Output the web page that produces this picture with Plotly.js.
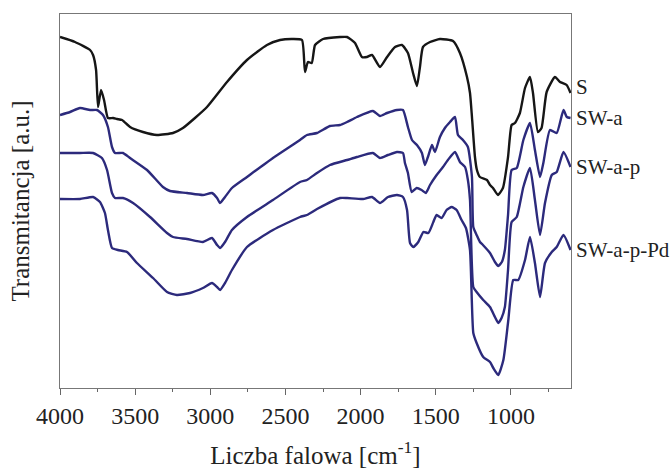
<!DOCTYPE html>
<html>
<head>
<meta charset="utf-8">
<script src="https://cdn.plot.ly/plotly-3.0.1.min.js"></script>
<style>html,body{margin:0;padding:0;background:#fff;}#chart{width:671px;height:470px;}</style>
</head>
<body>
<div id="chart"></div>
<script>
// Series names (labels at right)
const seriesNames = ["S", "SW-a", "SW-a-p", "SW-a-p-Pd"];

// S
const wnS = [4000,3900,3800,3780,3760,3747,3727,3707,3681,3647,3621,3587,3534,3448,3355,3248,3182,3102,3022,2889,2756,2623,2536,2450,2390,2370,2350,2325,2303,2250,2137,2090,2037,1991,1958,1924,1871,1824,1771,1725,1685,1651,1625,1605,1585,1538,1472,1385,1339,1292,1272,1259,1239,1226,1206,1159,1139,1119,1086,1053,1019,995,973,940,906,873,853,820,796,762,707,673,629,603];
const tS  = [351,346,338,333,318,281,298,288,270,270,269,268,261,256,253,255,260,270,281,306,328,343,348,349,348,316,326,325,343,349,351,351,345,331,331,333,321,331,341,343,335,315,302,321,341,346,349,347,335,311,295,271,231,218,211,208,203,200,193,200,231,263,265,275,300,311,295,256,260,296,311,306,303,295];

// SW-a
const wnA = [4000,3933,3867,3800,3754,3714,3681,3654,3634,3581,3534,3421,3315,3268,3155,3049,2989,2955,2935,2902,2856,2756,2583,2403,2357,2290,2204,2137,2090,2024,1918,1871,1824,1758,1718,1685,1658,1625,1592,1572,1552,1525,1505,1472,1439,1405,1372,1352,1319,1286,1259,1250,1228,1206,1186,1139,1106,1084,1060,1040,1019,995,961,917,873,840,806,784,740,695,650,628,603];
const tA  = [273,276,280,278,278,273,261,241,235,235,230,218,201,197,195,193,195,190,185,191,200,211,230,248,253,255,262,263,266,271,277,272,275,278,278,261,248,243,235,223,231,243,236,251,260,266,271,253,248,241,211,161,153,146,143,135,126,122,126,138,173,218,220,248,265,238,211,225,258,255,278,271,270];

// SW-a-p
const wnP = [4000,3867,3780,3721,3687,3654,3634,3581,3514,3401,3288,3248,3155,3049,2989,2955,2935,2902,2856,2756,2583,2403,2357,2290,2204,2090,2024,1918,1871,1818,1758,1718,1705,1685,1660,1627,1594,1566,1538,1494,1452,1419,1372,1339,1305,1286,1272,1250,1228,1184,1139,1106,1084,1062,1040,1019,995,961,917,873,840,806,773,728,695,650,603];
const tP  = [235,235,235,230,218,195,190,190,185,171,155,151,149,146,150,143,140,146,158,171,188,206,208,215,223,228,231,235,230,233,236,235,225,215,196,200,198,195,203,213,221,228,236,226,221,208,188,101,96,88,81,71,65,70,81,118,166,171,201,220,188,153,185,213,216,236,221];

// SW-a-p-Pd
const wnD = [4000,3867,3780,3734,3701,3681,3654,3614,3554,3488,3381,3288,3222,3135,3049,2989,2955,2935,2902,2856,2756,2583,2403,2357,2290,2137,2090,1984,1924,1871,1818,1758,1718,1691,1671,1649,1616,1582,1549,1516,1494,1461,1428,1394,1361,1328,1299,1272,1250,1228,1184,1139,1117,1084,1050,1017,984,951,906,873,840,806,773,728,695,650,603];
const tD  = [189,189,191,186,175,158,140,138,136,125,110,96,93,95,100,105,101,98,105,118,141,158,171,173,179,190,190,189,191,185,191,193,191,178,145,141,146,156,155,166,173,170,178,181,178,168,160,138,55,45,31,26,20,13,28,68,108,108,128,151,125,91,125,136,141,153,138];

// X tick values
const xTicks = [4000,3500,3000,2500,2000,1500,1000];

const seriesX = [wnS, wnA, wnP, wnD];
const seriesY = [tS, tA, tP, tD];
const colors = ["#161616", "#2c2a7c", "#2c2a7c", "#2c2a7c"];

const traces = seriesNames.map((n, i) => ({
  x: seriesX[i], y: seriesY[i], name: n, type: 'scatter', mode: 'lines',
  line: {color: colors[i], width: 2.4, shape: 'spline', smoothing: 0.5}, hoverinfo: 'skip'
}));

const font = "Liberation Serif";
const annotations = seriesNames.map((n, i) => ({
  x: 1, xref: 'paper', xanchor: 'left', xshift: 3,
  y: seriesY[i][seriesY[i].length - 1], yref: 'y', yanchor: 'middle',
  yshift: i === 0 ? 6 : 0,
  text: n, showarrow: false, font: {family: font, size: 21, color: '#222'}
}));

const layout = {
  width: 671, height: 470,
  margin: {l: 60, r: 100, t: 14, b: 82},
  paper_bgcolor: '#fff', plot_bgcolor: '#fff',
  showlegend: false,
  font: {family: font, color: '#222'},
  xaxis: {
    range: [4000, 600], tickvals: xTicks, ticktext: xTicks.map(String),
    ticks: 'outside', ticklen: 6, tickwidth: 1, tickcolor: '#666',
    minor: {dtick: 250, tick0: 0, ticks: 'outside', ticklen: 3, tickcolor: '#666', showgrid: false},
    showline: true, linecolor: '#777', linewidth: 1, mirror: true,
    showgrid: false, zeroline: false,
    tickfont: {family: font, size: 24, color: '#222'},
    title: {text: 'Liczba falowa [cm<sup>-1</sup>]', font: {family: font, size: 25, color: '#222'}, standoff: 18}
  },
  yaxis: {
    range: [0, 374], showticklabels: false, ticks: '',
    showline: true, linecolor: '#777', linewidth: 1, mirror: true,
    showgrid: false, zeroline: false,
    title: {text: 'Transmitancja [a.u.]', font: {family: font, size: 25, color: '#222'}, standoff: 22}
  },
  annotations: annotations
};

Plotly.newPlot('chart', traces, layout, {staticPlot: true, displayModeBar: false});
</script>
</body>
</html>
